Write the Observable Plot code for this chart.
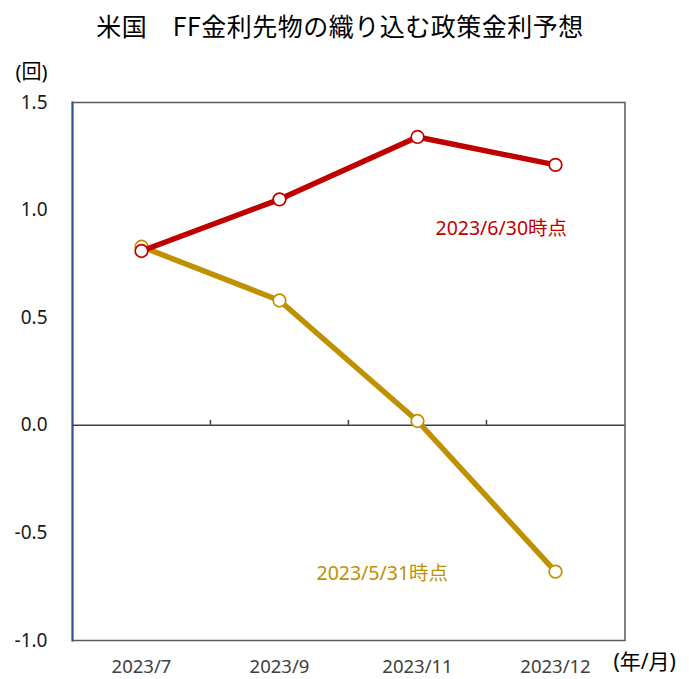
<!DOCTYPE html>
<html><head><meta charset="utf-8">
<script src="https://cdn.jsdelivr.net/npm/d3@7"></script>
<script src="https://cdn.jsdelivr.net/npm/@observablehq/plot@0.6"></script>
<style>
body{margin:0;background:#fff;}
#title{height:50px;line-height:50px;text-align:center;box-sizing:border-box;width:689px;padding-right:9px;font-family:"Noto Sans CJK JP",sans-serif;font-size:25px;letter-spacing:0.5px;color:#000;white-space:nowrap;}
#chart svg{display:block;}
</style></head><body>
<div id="title">米国　FF金利先物の織り込む政策金利予想</div>
<div id="chart"></div>
<script>
// data
const categories = ["2023/7", "2023/9", "2023/11", "2023/12"];
const seriesMay = [0.83, 0.58, 0.02, -0.68];   // 2023/5/31時点
const seriesJun = [0.81, 1.05, 1.34, 1.21];    // 2023/6/30時点
const seriesNames = ["2023/5/31時点", "2023/6/30時点"];
const yTicks = [-1.0, -0.5, 0.0, 0.5, 1.0, 1.5];
const yUnit = "(回)";
const xUnit = "(年/月)";
// series label anchors (category, value)
const labelCats = ["2023/9", "2023/11"];
const labelVals = [-0.69, 0.915];

const colors = {may: "#BF9000", jun: "#C00000"};
const W = 689, H = 629, mL = 72, mR = 64.5, mT = 52, mB = 39;
const bw = (W - mL - mR) / categories.length;

const may = categories.map((c, i) => ({cat: c, v: seriesMay[i]}));
const jun = categories.map((c, i) => ({cat: c, v: seriesJun[i]}));
const labMay = [{cat: labelCats[0], v: labelVals[0], t: seriesNames[0]}];
const labJun = [{cat: labelCats[1], v: labelVals[1], t: seriesNames[1]}];

const chart = Plot.plot({
  width: W, height: H,
  marginLeft: mL, marginRight: mR, marginTop: mT, marginBottom: mB,
  style: {fontFamily: '"Noto Sans","Noto Sans CJK JP",sans-serif', fontSize: "19px", background: "#fff", overflow: "visible"},
  x: {type: "band", domain: categories, padding: 0, label: null},
  y: {domain: [-1, 1.5], label: null},
  marks: [
    Plot.frame({stroke: "#595959", strokeWidth: 1.5}),
    Plot.frame({anchor: "left", stroke: "#2F5597", strokeWidth: 2}),
    Plot.ruleY([0], {stroke: "#404040", strokeWidth: 1.5}),
    Plot.ruleX(categories.slice(1), {y1: 0, y2: 0, insetTop: -5, dx: -bw / 2, stroke: "#404040", strokeWidth: 1.5}),
    Plot.axisY(yTicks, {tickSize: 0, tickPadding: 25, tickFormat: d => d.toFixed(1), fill: "#1a1a1a", label: null}),
    Plot.axisX({tickSize: 0, tickPadding: 19, fontSize: 18.5, fill: "#404040", label: null}),
    Plot.line(may, {x: "cat", y: "v", stroke: colors.may, strokeWidth: 5.5}),
    Plot.dot(may, {x: "cat", y: "v", r: 6.3, fill: "white", stroke: colors.may, strokeWidth: 1.7}),
    Plot.line(jun, {x: "cat", y: "v", stroke: colors.jun, strokeWidth: 5.5}),
    Plot.dot(jun, {x: "cat", y: "v", r: 6.3, fill: "white", stroke: colors.jun, strokeWidth: 1.7}),
    Plot.text(labMay, {x: "cat", y: "v", text: "t", fill: colors.may, dx: 37, textAnchor: "start", fontSize: 19.5}),
    Plot.text(labJun, {x: "cat", y: "v", text: "t", fill: colors.jun, dx: 18, textAnchor: "start", fontSize: 19.5}),
    Plot.text([yUnit], {frameAnchor: "top-left", dx: -57, dy: -38, textAnchor: "start", fontSize: 20, fill: "#000"}),
    Plot.text([xUnit], {frameAnchor: "bottom-right", dx: -11.5, dy: 28, textAnchor: "start", fontSize: 21, fill: "#000"})
  ]
});
document.getElementById("chart").append(chart);
</script>
</body></html>
